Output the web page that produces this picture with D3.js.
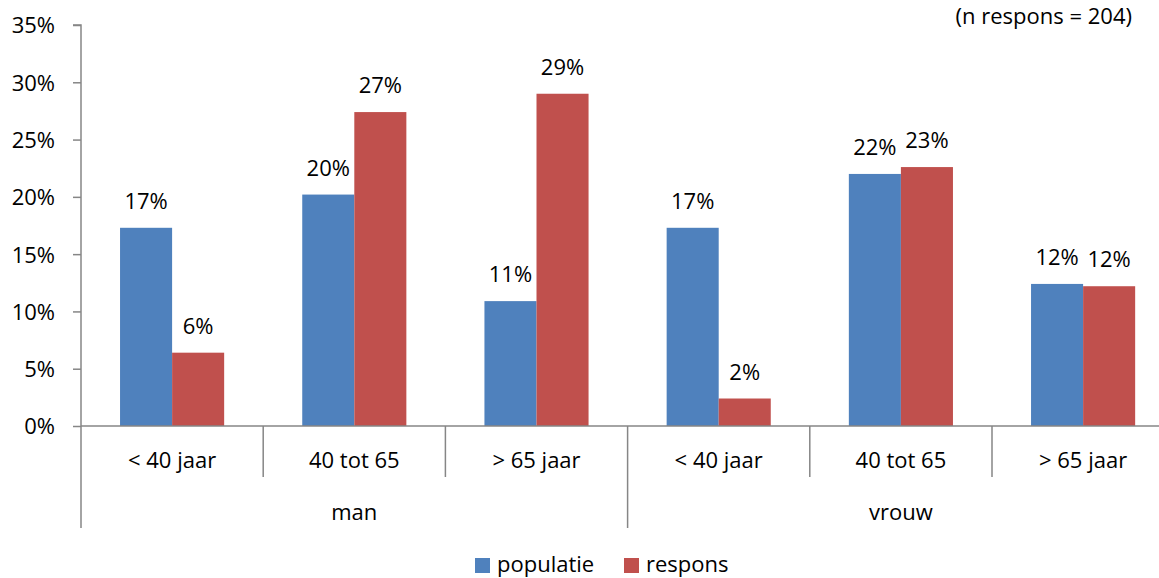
<!DOCTYPE html>
<html>
<head>
<meta charset="utf-8">
<script src="https://cdn.jsdelivr.net/npm/d3@7"></script>
<style>
    body { margin: 0; background: #fff; }
    svg text { font-family: 'Open Sans', 'Liberation Sans', sans-serif; fill: #000; }
</style>
</head>
<body>
<svg width="1159" height="578"></svg>
<script>
const groups = ['man', 'vrouw'];
const ageClasses = ['< 40 jaar', '40 tot 65', '> 65 jaar'];
const series = ['populatie', 'respons'];
const colors = ['#4f81bd', '#c0504d'];
const populatie = [17.3, 20.2, 10.9, 17.3, 22.0, 12.4];
const respons = [6.4, 27.4, 29.0, 2.4, 22.6, 12.2];
const yTicks = [0, 5, 10, 15, 20, 25, 30, 35];

const svg = d3.select('svg');
const plotLeft = 81, plotTop = 25, plotBottom = 426;
const catWidth = 182.2;
const fontSize = '22px';

// one key per category, groups x ages
const cats = [];
groups.forEach((g) => ageClasses.forEach((a) => cats.push(g + '|' + a)));

const xScale = d3.scaleBand()
    .domain(cats)
    .range([plotLeft, plotLeft + catWidth * cats.length])
    .paddingInner(0)
    .paddingOuter(0);

const inner = d3.scaleBand()
    .domain(series)
    .range([0, xScale.bandwidth()])
    .paddingInner(0)
    .paddingOuter(0.75);

const yScale = d3.scaleLinear()
    .domain([0, 35])
    .range([plotBottom, plotTop]);

const axisColor = '#868686';

// y axis
const yAxis = svg.append('g')
    .attr('transform', `translate(${plotLeft},0)`)
    .call(d3.axisLeft(yScale).tickValues(yTicks).tickSize(8).tickFormat((d) => d + '%'));
yAxis.select('.domain').attr('stroke', axisColor).attr('stroke-width', 1.5).attr('d', `M-8,${plotTop}H0V${plotBottom}`);
yAxis.selectAll('.tick line').attr('stroke', axisColor).attr('stroke-width', 1.5);
yAxis.selectAll('.tick text').attr('x', -26).attr('dy', '0.36em').style('font-size', fontSize);
yAxis.attr('font-family', null).attr('font-size', null);

// bars
const rows = cats.map((c, i) => ({ cat: c, values: [populatie[i], respons[i]] }));
const barG = svg.append('g').selectAll('g')
    .data(rows)
    .enter()
    .append('g')
    .attr('transform', (d) => `translate(${xScale(d.cat)},0)`);

barG.selectAll('rect')
    .data((d) => d.values.map((v, j) => ({ key: series[j], value: v, j })))
    .enter()
    .append('rect')
    .attr('x', (d) => inner(d.key))
    .attr('y', (d) => yScale(d.value))
    .attr('width', inner.bandwidth())
    .attr('height', (d) => plotBottom - yScale(d.value))
    .attr('fill', (d) => colors[d.j]);

barG.selectAll('text')
    .data((d) => d.values.map((v, j) => ({ key: series[j], value: v })))
    .enter()
    .append('text')
    .attr('x', (d) => inner(d.key) + inner.bandwidth() / 2)
    .attr('y', (d) => yScale(d.value) - 19)
    .attr('text-anchor', 'middle')
    .style('font-size', fontSize)
    .text((d) => Math.round(d.value) + '%');

// x axis line
const xEnd = plotLeft + catWidth * cats.length;
svg.append('line')
    .attr('x1', plotLeft).attr('x2', xEnd)
    .attr('y1', plotBottom).attr('y2', plotBottom)
    .attr('stroke', axisColor).attr('stroke-width', 1.5);

// category dividers
const xAxis = svg.append('g');
cats.forEach((c, i) => {
    const x0 = xScale(c);
    const isGroupStart = i % ageClasses.length === 0;
    xAxis.append('line')
        .attr('x1', x0).attr('x2', x0)
        .attr('y1', plotBottom).attr('y2', isGroupStart ? 528 : 477)
        .attr('stroke', axisColor).attr('stroke-width', 1.5);
    xAxis.append('text')
        .attr('x', x0 + xScale.bandwidth() / 2)
        .attr('y', 468)
        .attr('text-anchor', 'middle')
        .style('font-size', fontSize)
        .text(c.split('|')[1]);
});
xAxis.append('line')
    .attr('x1', xEnd).attr('x2', xEnd)
    .attr('y1', plotBottom).attr('y2', 528)
    .attr('stroke', axisColor).attr('stroke-width', 1.5);

// group labels
groups.forEach((g) => {
    const first = xScale(g + '|' + ageClasses[0]);
    const last = xScale(g + '|' + ageClasses[ageClasses.length - 1]) + xScale.bandwidth();
    xAxis.append('text')
        .attr('x', (first + last) / 2)
        .attr('y', 520)
        .attr('text-anchor', 'middle')
        .style('font-size', fontSize)
        .text(g);
});

// note
svg.append('text')
    .attr('x', 1132)
    .attr('y', 24)
    .attr('text-anchor', 'end')
    .style('font-size', fontSize)
    .text('(n respons = 204)');

// legend
const legendX = [475, 624];
const legend = svg.append('g').selectAll('g')
    .data(series)
    .enter()
    .append('g')
    .attr('transform', (d, i) => `translate(${legendX[i]},558)`);
legend.append('rect')
    .attr('width', 15).attr('height', 15)
    .attr('fill', (d, i) => colors[i]);
legend.append('text')
    .attr('x', 22)
    .attr('y', 14)
    .style('font-size', fontSize)
    .text((d) => d);
</script>
</body>
</html>
